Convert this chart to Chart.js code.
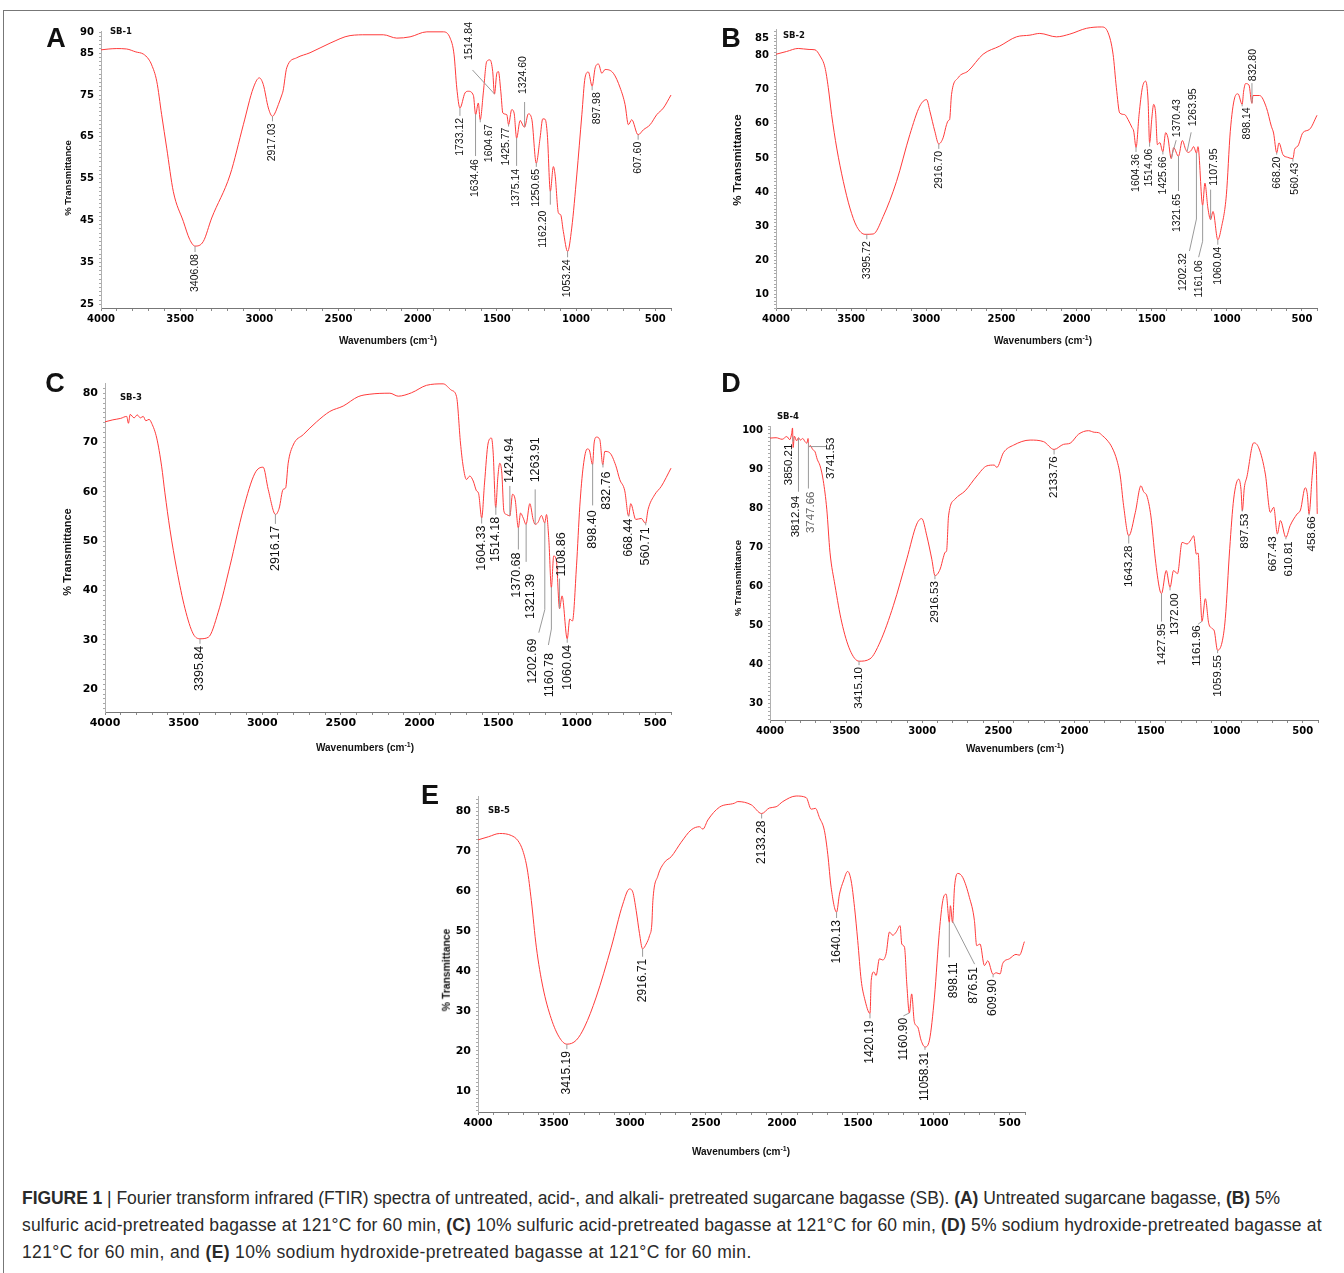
<!DOCTYPE html>
<html>
<head>
<meta charset="utf-8">
<script src="https://cdn.jsdelivr.net/npm/chart.js@4.4.0/dist/chart.umd.min.js"></script>
<style>
  body { margin: 0; background: #fff; width: 1344px; height: 1273px; position: relative; overflow: hidden;
         font-family: "Liberation Sans", Arial, sans-serif; }
  .frame-top { position: absolute; left: 3px; top: 10px; width: 1341px; border-top: 1px solid #777; }
  .frame-left { position: absolute; left: 3px; top: 10px; height: 1263px; border-left: 1px solid #777; }
  canvas { position: absolute; }
  .t { position: absolute; transform: translate(-50%, -50%); white-space: nowrap; line-height: 1; color: #111; }
  .lett { font: bold 27px "Liberation Sans", Arial, sans-serif; }
  .sb { font: bold 8.5px "DejaVu Sans", sans-serif; }
  .yt { transform: translate(-50%, -50%) rotate(-90deg); font-weight: bold; }
  .xt { font: bold 10px "Liberation Sans", Arial, sans-serif; }
  .xt sup { font-size: 7px; }
  .cap { position: absolute; left: 22px; font-size: 17.5px; line-height: 27px; color: #2a2a2a; white-space: nowrap; }
</style>
</head>
<body>
<div class="frame-top"></div>
<div class="frame-left"></div>

<script>
// ---- spectra (wavenumber cm-1 / % transmittance) ----
const waveA = [4000, 3950, 3900, 3838, 3780, 3733, 3700, 3680, 3648, 3617, 3585, 3543, 3480, 3440, 3406, 3354, 3301, 3185, 3101, 3038,
  3000, 2975, 2943, 2917, 2901, 2880, 2858, 2850, 2827, 2764, 2680, 2553, 2427, 2320, 2217, 2132, 2048, 1942, 1838, 1795,
  1770, 1753, 1733, 1701, 1680, 1648, 1634, 1617, 1605, 1585, 1564, 1543, 1526, 1515, 1500, 1490, 1475, 1462, 1437, 1426,
  1406, 1391, 1375, 1353, 1332, 1325, 1301, 1279, 1251, 1227, 1210, 1195, 1181, 1162, 1143, 1132, 1111, 1097, 1080, 1053,
  1027, 995, 963, 943, 922, 898, 879, 858, 837, 816, 764, 721, 690, 669, 648, 608, 574, 532, 490, 448, 400];
const transA = [85.8, 86.0, 86.1, 86.0, 85.3, 84.8, 83.6, 82.2, 78.3, 70.3, 62.3, 51.9, 44.8, 40.5, 38.9, 40.0, 45.6, 55.9, 67.9, 76.7,
  79.1, 77.5, 71.9, 69.9, 70.7, 72.7, 75.0, 76.0, 81.5, 83.9, 85.1, 87.4, 89.2, 89.4, 89.4, 88.6, 88.9, 90.1, 90.1, 88.6,
  84.6, 76.7, 71.9, 75.5, 75.9, 74.9, 70.3, 73.1, 69.1, 75.7, 83.0, 83.4, 80.6, 75.2, 80.2, 80.6, 75.9, 70.7, 70.3, 67.9,
  71.5, 70.7, 64.7, 68.9, 67.5, 67.3, 70.5, 69.2, 58.7, 64.7, 69.3, 69.2, 65.5, 52.0, 57.9, 55.9, 46.8, 46.4, 42.4, 37.6,
  43.2, 55.9, 70.3, 79.1, 80.5, 77.1, 81.5, 82.4, 80.2, 81.1, 80.2, 76.7, 72.7, 67.9, 69.1, 65.5, 66.7, 67.9, 70.3, 71.9, 75.0];

const waveB = [4000, 3930, 3852, 3780, 3741, 3707, 3674, 3652, 3630, 3596, 3552, 3508, 3463, 3408, 3353, 3287, 3198, 3109, 3043, 2998,
  2976, 2943, 2917, 2888, 2865, 2852, 2845, 2832, 2788, 2721, 2622, 2511, 2400, 2310, 2245, 2134, 2045, 1934, 1834, 1791,
  1757, 1735, 1713, 1680, 1658, 1631, 1620, 1604, 1584, 1562, 1540, 1524, 1514, 1499, 1487, 1474, 1462, 1446, 1426, 1407,
  1392, 1370, 1354, 1322, 1296, 1274, 1258, 1237, 1221, 1202, 1192, 1161, 1146, 1126, 1108, 1092, 1060, 1037, 1003, 977,
  948, 926, 898, 888, 875, 853, 833, 826, 782, 737, 704, 689, 668, 653, 627, 597, 560, 549, 527, 494, 449, 400];
const transB = [80.4, 81.2, 82.1, 81.8, 81.7, 79.9, 76.5, 70.6, 62.7, 52.9, 43.1, 35.3, 29.9, 27.6, 27.7, 32.8, 43.1, 56.9, 65.2, 67.1,
  63.7, 57.8, 54.1, 55.9, 59.8, 61.0, 61.2, 68.6, 73.5, 75.5, 80.4, 82.8, 85.5, 86.0, 86.5, 85.5, 86.3, 88.0, 88.4, 86.8,
  80.4, 70.6, 63.2, 62.7, 61.3, 58.9, 57.9, 53.1, 62.7, 70.6, 72.5, 66.7, 54.4, 61.7, 65.7, 63.2, 53.9, 54.5, 51.8, 57.4,
  55.9, 49.8, 53.0, 50.5, 55.1, 52.5, 51.6, 52.2, 53.3, 51.4, 53.3, 36.1, 42.6, 35.3, 31.9, 34.3, 26.0, 29.4, 39.2, 57.8,
  67.6, 68.8, 65.7, 69.6, 71.8, 71.4, 66.0, 68.3, 68.3, 64.8, 59.3, 57.3, 51.5, 54.4, 51.0, 50.2, 49.8, 52.5, 53.5, 57.4, 58.4, 62.5];

const waveC = [4000, 3950, 3900, 3862, 3851, 3840, 3815, 3795, 3775, 3757, 3740, 3720, 3703, 3671, 3640, 3619, 3587, 3544, 3491, 3439,
  3396, 3343, 3280, 3205, 3121, 3046, 2994, 2962, 2915, 2892, 2867, 2851, 2835, 2803, 2739, 2654, 2570, 2485, 2390, 2315,
  2188, 2135, 2050, 1955, 1849, 1796, 1764, 1739, 1722, 1701, 1680, 1658, 1637, 1624, 1604, 1586, 1563, 1542, 1531, 1515,
  1501, 1489, 1476, 1463, 1446, 1425, 1408, 1391, 1371, 1357, 1340, 1322, 1298, 1277, 1264, 1246, 1224, 1203, 1192, 1177,
  1161, 1146, 1129, 1109, 1093, 1060, 1044, 1027, 1001, 980, 958, 933, 920, 899, 889, 874, 853, 834, 821, 789,
  751, 726, 694, 670, 656, 624, 589, 562, 546, 504, 462, 400];
const transC = [74.2, 74.6, 74.9, 75.3, 73.9, 75.7, 75.0, 75.6, 75.0, 75.3, 74.4, 74.7, 73.9, 70.9, 65.2, 59.8, 52.4, 44.3, 36.3, 31.2,
  30.2, 30.5, 35.6, 45.0, 56.4, 63.8, 65.0, 60.5, 55.4, 56.7, 60.5, 60.8, 65.8, 69.5, 71.6, 74.2, 76.3, 77.4, 79.3, 79.8,
  80.0, 79.4, 80.1, 81.6, 81.9, 80.6, 79.3, 69.9, 65.2, 62.5, 63.2, 62.2, 60.2, 59.7, 54.7, 61.8, 69.9, 70.9, 67.9, 56.8,
  63.1, 65.8, 63.8, 56.1, 55.4, 55.1, 59.5, 58.4, 52.7, 55.7, 54.7, 53.4, 57.6, 54.4, 53.4, 53.8, 55.2, 53.7, 55.4, 50.3,
  40.6, 47.0, 46.0, 36.3, 38.9, 30.2, 34.2, 33.8, 45.0, 57.1, 65.2, 68.7, 68.5, 65.5, 69.9, 71.1, 70.6, 65.5, 68.2, 67.9,
  65.3, 62.5, 60.2, 55.1, 57.6, 54.4, 54.6, 53.6, 56.4, 59.4, 61.1, 64.8];

const waveD = [4000, 3960, 3920, 3890, 3870, 3858, 3852, 3848, 3840, 3825, 3813, 3800, 3785, 3770, 3758, 3750, 3745, 3735, 3720, 3704,
  3690, 3671, 3650, 3627, 3606, 3573, 3529, 3474, 3415, 3343, 3277, 3189, 3101, 3036, 3003, 2970, 2937, 2916, 2882, 2861,
  2849, 2840, 2827, 2784, 2718, 2641, 2575, 2527, 2510, 2466, 2400, 2291, 2203, 2134, 2072, 2028, 1973, 1907, 1870, 1842,
  1815, 1786, 1753, 1720, 1699, 1677, 1643, 1600, 1563, 1546, 1524, 1498, 1469, 1441, 1428, 1397, 1372, 1349, 1323, 1293,
  1260, 1234, 1217, 1199, 1188, 1173, 1162, 1140, 1118, 1096, 1081, 1060, 1030, 1009, 980, 954, 921, 906, 897, 884,
  867, 822, 789, 746, 713, 691, 667, 647, 611, 583, 537, 515, 484, 470, 459, 438, 421, 411, 405];
const transD = [97.9, 98.0, 97.6, 98.3, 97.5, 99.0, 100.5, 95.5, 98.4, 97.2, 98.0, 97.4, 97.8, 97.0, 96.6, 97.8, 95.6, 96.0, 95.0, 94.4,
  92.5, 90.8, 87.0, 79.7, 68.7, 60.2, 50.8, 43.6, 40.8, 41.4, 45.7, 55.1, 67.0, 75.9, 77.3, 72.9, 66.9, 62.7, 64.4, 67.4,
  68.7, 69.0, 78.0, 82.3, 84.4, 88.2, 90.8, 91.0, 90.4, 94.2, 96.1, 97.4, 97.0, 95.0, 96.3, 96.6, 98.9, 99.8, 99.4, 99.3,
  98.5, 97.4, 95.5, 92.1, 88.2, 80.6, 72.9, 78.9, 85.7, 84.2, 83.1, 78.0, 67.0, 59.3, 58.1, 64.0, 59.7, 64.0, 63.2, 71.2,
  70.8, 71.9, 72.9, 68.2, 68.5, 57.6, 51.0, 56.8, 50.5, 49.2, 48.5, 43.6, 45.7, 51.7, 69.6, 82.3, 87.4, 84.8, 79.3, 85.2,
  88.0, 96.7, 95.4, 88.7, 78.9, 80.2, 73.4, 76.8, 72.5, 75.5, 78.5, 79.5, 85.2, 83.5, 78.5, 88.3, 94.4, 90.8, 78.5];

const waveE = [4000, 3930, 3858, 3781, 3737, 3705, 3676, 3649, 3616, 3573, 3518, 3463, 3415, 3353, 3299, 3222, 3123, 3047, 3003, 2981,
  2959, 2937, 2917, 2893, 2871, 2856, 2849, 2816, 2772, 2728, 2663, 2597, 2542, 2520, 2487, 2411, 2312, 2290, 2202, 2133,
  2082, 2038, 1994, 1906, 1840, 1807, 1779, 1753, 1720, 1698, 1676, 1640, 1621, 1595, 1567, 1544, 1522, 1501, 1478, 1456,
  1420, 1412, 1395, 1380, 1358, 1336, 1314, 1292, 1270, 1248, 1222, 1211, 1193, 1178, 1161, 1146, 1128, 1106, 1084, 1058,
  1029, 996, 963, 941, 919, 898, 891, 877, 864, 843, 810, 766, 733, 718, 696, 667, 645, 610, 590, 564,
  547, 503, 459, 437, 404];
const transE = [72.9, 73.7, 74.5, 74.0, 72.7, 70.2, 65.6, 57.7, 46.0, 36.0, 28.1, 23.3, 21.7, 22.7, 26.0, 33.5, 46.0, 56.8, 60.6, 59.8,
  55.2, 49.4, 45.6, 46.8, 48.9, 51.8, 57.7, 63.9, 67.3, 68.7, 72.3, 75.4, 76.2, 75.6, 77.9, 81.1, 82.1, 82.5, 81.7, 79.5,
  80.9, 81.2, 82.5, 83.9, 83.5, 80.6, 80.8, 78.5, 75.2, 69.3, 61.0, 54.8, 59.3, 62.6, 65.0, 62.6, 56.0, 47.7, 37.7, 33.2,
  29.4, 37.7, 39.8, 38.9, 43.1, 42.8, 44.4, 49.8, 49.0, 49.8, 51.4, 46.8, 46.0, 36.8, 29.5, 34.3, 27.2, 26.0, 22.7, 21.0,
  22.7, 33.5, 50.2, 57.7, 59.3, 52.2, 56.4, 52.2, 61.0, 64.5, 63.5, 58.5, 52.7, 46.4, 46.8, 41.4, 42.6, 39.2, 39.6, 39.3,
  41.9, 43.1, 44.2, 44.0, 47.4];

// ---- peak labels ----
const peakA = [3406.08, 2917.03, 1733.12, 1634.46, 1604.67, 1514.84, 1425.77, 1375.14, 1324.60, 1250.65, 1162.20, 1053.24, 897.98, 607.60];
const textA = ['3406.08', '2917.03', '1733.12', '1634.46', '1604.67', '1514.84', '1425.77', '1375.14', '1324.60', '1250.65', '1162.20', '1053.24', '897.98', '607.60'];
const peakB = [3395.72, 2916.70, 1604.36, 1514.06, 1425.66, 1370.43, 1321.65, 1263.95, 1202.32, 1161.06, 1107.95, 1060.04, 898.14, 832.80, 668.20, 560.43];
const textB = ['3395.72', '2916.70', '1604.36', '1514.06', '1425.66', '1370.43', '1321.65', '1263.95', '1202.32', '1161.06', '1107.95', '1060.04', '898.14', '832.80', '668.20', '560.43'];
const peakC = [3395.84, 2916.17, 1604.33, 1514.18, 1424.94, 1370.68, 1321.39, 1263.91, 1202.69, 1160.78, 1108.86, 1060.04, 898.40, 832.76, 668.44, 560.71];
const textC = ['3395.84', '2916.17', '1604.33', '1514.18', '1424.94', '1370.68', '1321.39', '1263.91', '1202.69', '1160.78', '1108.86', '1060.04', '898.40', '832.76', '668.44', '560.71'];
const peakD = [3850.21, 3812.94, 3747.66, 3741.53, 3415.10, 2916.53, 2133.76, 1643.28, 1427.95, 1372.00, 1161.96, 1059.55, 897.53, 667.43, 610.81, 458.66];
const textD = ['3850.21', '3812.94', '3747.66', '3741.53', '3415.10', '2916.53', '2133.76', '1643.28', '1427.95', '1372.00', '1161.96', '1059.55', '897.53', '667.43', '610.81', '458.66'];
const peakE = [3415.19, 2916.71, 2133.28, 1640.13, 1420.19, 1160.90, 1058.31, 898.11, 876.51, 609.90];
const textE = ['3415.19', '2916.71', '2133.28', '1640.13', '1420.19', '1160.90', '11058.31', '898.11', '876.51', '609.90'];

const xTickLabels = [4000, 3500, 3000, 2500, 2000, 1500, 1000, 500];
const yTicksA = [25, 35, 45, 55, 65, 75, 85, 90];
const yTicksB = [10, 20, 30, 40, 50, 60, 70, 80, 85];
const yTicksC = [20, 30, 40, 50, 60, 70, 80];
const yTicksD = [30, 40, 50, 60, 70, 80, 90, 100];
const yTicksE = [10, 20, 30, 40, 50, 60, 70, 80];

// leader lines for the peak labels (pixel offsets from the point on the curve)
// number = straight down; l = leader polyline, t = text offset, up = text above
const leadA = [6, 5, 8, {l: [[0, 42]], t: [0, 3]}, {l: [[0, 3]], t: [9, 2]}, {l: [[-22, -24]], t: [-3, -10], up: 1},
  {l: [[0, 2]], t: [-2, 1]}, {l: [[0, 28]], t: [0, 3]}, {l: [[0, -25]], t: [-1, -8], up: 1}, 4,
  {l: [[0, 14]], t: [-7, 6]}, 6, {l: [[0, 4]], t: [5, 2]}, 5];
const leadB = [5, 5, 5, 4, 3, {l: [[5, -18]], t: [1, -3], up: 1}, {l: [[0, 35]], t: [-1, 3]},
  {l: [[4, -19]], t: [2, -6], up: 1}, {l: [[0, 66], [-7, 98]], t: [-6, 2]}, {l: [[0, 36], [-4, 52]], t: [0, 3]},
  {l: [[0, -30]], t: [3, -4], up: 1}, 5, {l: [[0, 2]], t: [5, 1]}, {l: [[0, -20]], t: [1, -2], up: 1}, 2, {l: [[0, 3]], t: [2, 1]}];
const leadC = [5, 10, 6, 9, {l: [[0, -30]], t: [0, -3], up: 1}, {l: [[0, 22]], t: [-2, 3]}, {l: [[0, 38]], t: [4, 12]},
  {l: [[0, -35]], t: [0, -7], up: 1}, {l: [[0, 87], [-6, 110]], t: [-6, 6]}, {l: [[0, 42], [-3, 58]], t: [1, 8]},
  {l: [[0, -30]], t: [2, -2], up: 1}, 4, {l: [[0, 42]], t: [0, 5]}, {l: [[0, 4]], t: [4, 4]}, 2, 3];
const leadD = [{l: [[0, 5]], t: [-4, 2]}, {l: [[0, 54]], t: [-3, 4]}, {l: [[0, 46]], t: [2, 3], light: 1}, {l: [[17, 0]], t: [4, -9]},
  4, 4, 5, 8, {l: [[0, 28]], t: [0, 2]}, {l: [[0, 3]], t: [5, 3]}, {l: [[-4, 3]], t: [-1, 1]}, 3,
  {l: [[0, 2]], t: [3, 2]}, {l: [[0, 1]], t: [-4, 2]}, {l: [[0, 2]], t: [3, 2]}, {l: [[0, 2]], t: [3, 1]}];
const leadE = [5, 8, 5, 6, 5, {l: [[-6, 3]], t: [0, 2]}, 3, {l: [[0, 35]], t: [4, 5]}, {l: [[22, 43]], t: [-1, 3]}, 3];

function valueAt(waves, trans, w) {
  for (let i = 0; i < waves.length - 1; i++) {
    if (w <= waves[i] && w >= waves[i + 1]) {
      const f = (waves[i] - w) / (waves[i] - waves[i + 1]);
      return trans[i] + f * (trans[i + 1] - trans[i]);
    }
  }
  return trans[trans.length - 1];
}

function makePanel(p) {
  const cv = document.createElement('canvas');
  cv.width = p.box.x1 - p.box.x0;
  cv.height = p.box.y1 - p.box.y0;
  cv.style.left = p.box.x0 + 'px';
  cv.style.top = p.box.y0 + 'px';
  document.body.appendChild(cv);

  const peakLabels = {
    id: 'peakLabels',
    afterDatasetsDraw(chart) {
      const ctx = chart.ctx, xs = chart.scales.x, ys = chart.scales.y;
      ctx.save();
      ctx.font = p.peakFont + 'px "Liberation Sans", Arial, sans-serif';
      ctx.textBaseline = 'middle';
      p.peaks.forEach((w, i) => {
        let lay = p.leads[i];
        if (typeof lay === 'number') lay = {l: [[0, lay]], t: [0, 2]};
        const cx = xs.getPixelForValue(w);
        const cy = ys.getPixelForValue(valueAt(p.waves, p.trans, w));
        const pts = [[cx, cy]].concat(lay.l.map(o => [cx + o[0], cy + o[1]]));
        ctx.strokeStyle = '#9a9a9a';
        ctx.lineWidth = 1;
        ctx.beginPath();
        pts.forEach((q, k) => k ? ctx.lineTo(q[0], q[1]) : ctx.moveTo(q[0], q[1]));
        ctx.stroke();
        const end = pts[pts.length - 1];
        ctx.save();
        ctx.translate(end[0] + lay.t[0], end[1] + lay.t[1]);
        ctx.rotate(-Math.PI / 2);
        ctx.textAlign = lay.up ? 'left' : 'right';
        ctx.fillStyle = lay.light ? '#666' : '#111';
        ctx.fillText(p.texts[i], 0, 0);
        ctx.restore();
      });
      ctx.restore();
    }
  };

  return new Chart(cv, {
    type: 'line',
    data: {
      datasets: [{
        data: p.waves.map((w, i) => ({x: w, y: p.trans[i]})),
        borderColor: '#ff3b3b',
        borderWidth: 1,
        pointRadius: 0,
        cubicInterpolationMode: 'monotone',
        fill: false,
        clip: false
      }]
    },
    options: {
      responsive: false,
      animation: false,
      events: [],
      layout: {padding: {top: p.plot.t - p.box.y0, right: p.box.x1 - p.plot.r, left: 0, bottom: 0}},
      plugins: {legend: {display: false}, tooltip: {enabled: false}},
      scales: {
        x: {
          type: 'linear',
          reverse: true,
          min: 400,
          max: 4000,
          afterFit(s) { s.height = p.box.y1 - p.plot.b; },
          grid: {drawOnChartArea: false, tickLength: 3, color: '#8a8a8a'},
          border: {color: '#777'},
          ticks: {
            stepSize: 100, autoSkip: false, maxRotation: 0, padding: 2, color: '#000',
            font: {family: 'DejaVu Sans', weight: 'bold', size: p.xFont},
            callback: v => xTickLabels.includes(v) ? String(v) : ''
          }
        },
        y: {
          type: 'linear',
          min: p.yMin,
          max: p.yMax,
          afterFit(s) { s.width = p.plot.l - p.box.x0; },
          afterBuildTicks(s) {
            const list = [];
            for (let v = Math.ceil(p.yMin); v <= Math.floor(p.yMax); v++) list.push({value: v});
            s.ticks = list;
          },
          grid: {drawOnChartArea: false, tickLength: 2, color: '#a8a8a8'},
          border: {color: '#b0b0b0'},
          ticks: {
            autoSkip: false, padding: 5, color: '#000',
            font: {family: 'DejaVu Sans', weight: 'bold', size: p.yFont},
            callback: v => p.yLabels.includes(v) ? String(v) : ''
          }
        }
      }
    },
    plugins: [peakLabels]
  });
}

makePanel({box: {x0: 40, y0: 20, x1: 680, y1: 352}, plot: {l: 101, t: 31, r: 671, b: 308},
  waves: waveA, trans: transA, yMin: 24.1, yMax: 90.3, yLabels: yTicksA,
  peaks: peakA, texts: textA, leads: leadA, peakFont: 10.5, xFont: 10, yFont: 10});
makePanel({box: {x0: 715, y0: 18, x1: 1330, y1: 352}, plot: {l: 776, t: 28, r: 1317, b: 308},
  waves: waveB, trans: transB, yMin: 6, yMax: 87.8, yLabels: yTicksB,
  peaks: peakB, texts: textB, leads: leadB, peakFont: 10.5, xFont: 10, yFont: 10});
makePanel({box: {x0: 40, y0: 372, x1: 680, y1: 760}, plot: {l: 105, t: 382, r: 671, b: 712},
  waves: waveC, trans: transC, yMin: 15.35, yMax: 81.95, yLabels: yTicksC,
  peaks: peakC, texts: textC, leads: leadC, peakFont: 12.5, xFont: 11, yFont: 11});
makePanel({box: {x0: 715, y0: 415, x1: 1330, y1: 760}, plot: {l: 770, t: 425, r: 1318, b: 720},
  waves: waveD, trans: transD, yMin: 25.75, yMax: 101, yLabels: yTicksD,
  peaks: peakD, texts: textD, leads: leadD, peakFont: 11.5, xFont: 10, yFont: 10});
makePanel({box: {x0: 420, y0: 785, x1: 1035, y1: 1165}, plot: {l: 478, t: 795, r: 1025, b: 1112},
  waves: waveE, trans: transE, yMin: 4.7, yMax: 83.75, yLabels: yTicksE,
  peaks: peakE, texts: textE, leads: leadE, peakFont: 12, xFont: 10.5, yFont: 11});
</script>

<!-- panel letters, sample names, axis titles -->
<div class="t lett" style="left:56px;top:38px">A</div>
<div class="t lett" style="left:731px;top:38px">B</div>
<div class="t lett" style="left:55px;top:383px">C</div>
<div class="t lett" style="left:731px;top:383px">D</div>
<div class="t lett" style="left:430px;top:795px">E</div>

<div class="t sb" style="left:121px;top:31px">SB-1</div>
<div class="t sb" style="left:794px;top:35px">SB-2</div>
<div class="t sb" style="left:131px;top:397px">SB-3</div>
<div class="t sb" style="left:788px;top:416px">SB-4</div>
<div class="t sb" style="left:499px;top:810px">SB-5</div>

<div class="t yt" style="left:68px;top:178px;font-size:9.5px">% Transmittance</div>
<div class="t yt" style="left:738px;top:160px;font-size:11.5px">% Transmittance</div>
<div class="t yt" style="left:67px;top:552px;font-size:11px">% Transmittance</div>
<div class="t yt" style="left:738px;top:578px;font-size:9.6px">% Transmittance</div>
<div class="t yt" style="left:447px;top:970px;font-size:10.4px">% Transmittance</div>

<div class="t xt" style="left:388px;top:340px">Wavenumbers (cm<sup>-1</sup>)</div>
<div class="t xt" style="left:1043px;top:340px">Wavenumbers (cm<sup>-1</sup>)</div>
<div class="t xt" style="left:365px;top:747px">Wavenumbers (cm<sup>-1</sup>)</div>
<div class="t xt" style="left:1015px;top:748px">Wavenumbers (cm<sup>-1</sup>)</div>
<div class="t xt" style="left:741px;top:1151px">Wavenumbers (cm<sup>-1</sup>)</div>

<div class="cap" style="top:1185px">
  <div style="letter-spacing:-0.05px"><b>FIGURE 1</b> | Fourier transform infrared (FTIR) spectra of untreated, acid-, and alkali- pretreated sugarcane bagasse (SB). <b>(A)</b> Untreated sugarcane bagasse, <b>(B)</b> 5%</div>
  <div style="letter-spacing:0.18px">sulfuric acid-pretreated bagasse at 121°C for 60 min, <b>(C)</b> 10% sulfuric acid-pretreated bagasse at 121°C for 60 min, <b>(D)</b> 5% sodium hydroxide-pretreated bagasse at</div>
  <div style="letter-spacing:0.37px">121°C for 60 min, and <b>(E)</b> 10% sodium hydroxide-pretreated bagasse at 121°C for 60 min.</div>
</div>
</body>
</html>
